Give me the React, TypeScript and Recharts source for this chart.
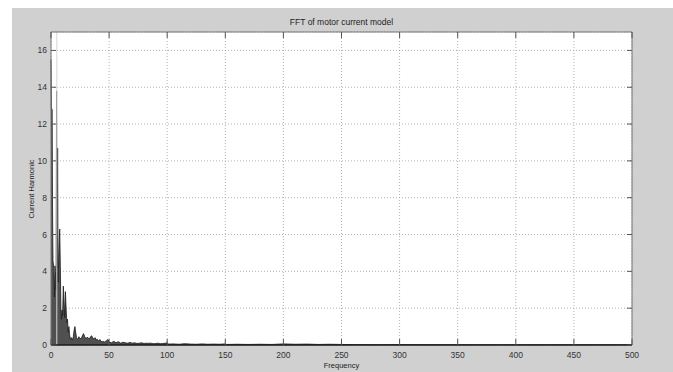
import React from 'react';
import { ComposedChart, Area, XAxis, YAxis, CartesianGrid, ReferenceLine } from 'recharts';

const titleText = 'FFT of motor current model';
const xLabel = 'Frequency';
const yLabel = 'Current Harmonic';

const xTicks = [0, 50, 100, 150, 200, 250, 300, 350, 400, 450, 500];
const yTicks = [0, 2, 4, 6, 8, 10, 12, 14, 16];

const frequency = [
  0, 0.3, 1.0, 1.3, 1.7, 2.2, 2.6, 3.0, 3.4, 3.9, 4.4, 4.8, 5.2, 5.7, 6.1, 6.6, 7.1, 7.5, 8.0, 8.5,
  9.0, 9.5, 10.0, 10.6, 11.2, 11.8, 12.4, 13.0, 13.6, 14.2, 14.8, 15.4, 16.0, 16.8, 17.6, 18.4, 19.2,
  20.0, 20.6, 21.2, 22, 23, 24, 25, 26, 27, 28, 29, 30, 31, 32, 33, 34, 35, 36, 37, 38, 39, 40, 41,
  42, 43, 44, 45, 46, 47, 48, 49, 50, 52, 54, 56, 58, 60, 62, 64, 66, 68, 70, 72, 74, 76, 78, 80,
  82, 84, 86, 88, 90, 92, 94, 96, 98, 100, 101, 105, 110, 115, 120, 125, 130, 135, 140, 145, 150,
  151, 160, 170, 180, 190, 200, 210, 220, 230, 240, 250, 260, 280, 300, 350, 400, 450, 500,
];

const harmonic = [
  15.5, 12.8, 12.8, 7.6, 4.6, 4.3, 3.8, 2.6, 4.3, 3.9, 3.0, 13.8, 4.2, 10.7, 3.4, 4.7, 5.7, 6.3, 4.4, 2.0,
  1.4, 1.9, 1.6, 3.2, 2.4, 1.5, 2.9, 2.0, 1.2, 1.4, 0.7, 1.0, 0.55, 0.3, 0.4, 0.25, 0.45,
  0.85, 1.0, 0.7, 0.4, 0.3, 0.45, 0.35, 0.35, 0.5, 0.62, 0.45, 0.35, 0.42, 0.38, 0.33, 0.45, 0.5, 0.38, 0.32, 0.4, 0.28, 0.3, 0.22,
  0.3, 0.2, 0.17, 0.2, 0.16, 0.2, 0.25, 0.3, 0.16, 0.12, 0.2, 0.12, 0.18, 0.1, 0.15, 0.12, 0.1, 0.14, 0.1, 0.12, 0.08, 0.1, 0.12, 0.08,
  0.1, 0.09, 0.1, 0.07, 0.08, 0.1, 0.07, 0.08, 0.09, 0.12, 0.05, 0.06, 0.04, 0.07, 0.05, 0.04, 0.06, 0.04, 0.05, 0.04, 0.06,
  0.03, 0.04, 0.03, 0.04, 0.03, 0.06, 0.04, 0.05, 0.03, 0.04, 0.03, 0.02, 0.015, 0.02, 0.01, 0.01, 0.01, 0.01,
];

const data = frequency.map((f, i) => ({ f, v: harmonic[i] }));

const W = 673;
const H = 372;
const PLOT_LEFT = 51;
const PLOT_TOP = 32;
const PLOT_RIGHT = 632;
const PLOT_BOTTOM = 345;
const FONT = '"Liberation Sans", Arial, sans-serif';

const XTick = (props: any) => {
  const { x, y, payload } = props;
  return (
    <g>
      <line x1={x} y1={PLOT_BOTTOM} x2={x} y2={PLOT_BOTTOM - 6} stroke="#555" strokeWidth={1} />
      <line x1={x} y1={PLOT_TOP} x2={x} y2={PLOT_TOP + 6} stroke="#555" strokeWidth={1} />
      <text x={x} y={y} dy="0.35em" textAnchor="middle" fontSize={8.5} fill="#333" fontFamily={FONT}>
        {payload.value}
      </text>
    </g>
  );
};

const YTick = (props: any) => {
  const { x, y, payload } = props;
  return (
    <g>
      <line x1={PLOT_LEFT} y1={y} x2={PLOT_LEFT + 5} y2={y} stroke="#555" strokeWidth={1} />
      <line x1={PLOT_RIGHT} y1={y} x2={PLOT_RIGHT - 5} y2={y} stroke="#555" strokeWidth={1} />
      <text x={x} y={y} dy="0.35em" textAnchor="end" fontSize={8.5} fill="#333" fontFamily={FONT}>
        {payload.value}
      </text>
    </g>
  );
};

export default function App() {
  return (
    <div style={{ position: 'absolute', left: 0, top: 0, width: W, height: H, background: '#ffffff', overflow: 'hidden' }}>
      <div style={{ position: 'absolute', left: 12, top: 8, width: W - 12, height: H - 8, background: '#d0d0d0' }} />
      <div
        style={{
          position: 'absolute',
          left: PLOT_LEFT,
          top: PLOT_TOP,
          width: PLOT_RIGHT - PLOT_LEFT,
          height: PLOT_BOTTOM - PLOT_TOP,
          background: '#ffffff',
        }}
      />
      <div style={{ position: 'absolute', left: 0, top: 0 }}>
        <ComposedChart width={W} height={H} data={data} margin={{ top: PLOT_TOP, right: W - PLOT_RIGHT, bottom: 0, left: 0 }}>
          <CartesianGrid stroke="#a0a0a0" strokeDasharray="1 2" strokeWidth={0.8} />
          <XAxis
            dataKey="f"
            type="number"
            domain={[0, 500]}
            ticks={xTicks}
            height={H - PLOT_BOTTOM}
            tickSize={0}
            tickMargin={10}
            tickLine={false}
            tick={<XTick />}
            axisLine={{ stroke: '#1a1a1a', strokeWidth: 1.5 }}
            interval={0}
          />
          <YAxis
            type="number"
            domain={[0, 17]}
            ticks={yTicks}
            width={PLOT_LEFT}
            tickSize={0}
            tickMargin={4}
            tickLine={false}
            tick={<YTick />}
            axisLine={{ stroke: '#777', strokeWidth: 1 }}
            allowDataOverflow
            interval={0}
          />
          <ReferenceLine x={5.0} stroke="#d8d8d8" strokeWidth={1} />
          <ReferenceLine y={17} stroke="#777" strokeWidth={1} />
          <ReferenceLine x={500} stroke="#777" strokeWidth={1} />
          <Area
            dataKey="v"
            type="linear"
            fill="#505050"
            fillOpacity={1}
            stroke="#1c1c1c"
            strokeWidth={0.8}
            dot={false}
            activeDot={false}
            isAnimationActive={false}
          />
        </ComposedChart>
      </div>
      <div
        style={{
          position: 'absolute',
          left: PLOT_LEFT,
          width: PLOT_RIGHT - PLOT_LEFT,
          top: 16,
          textAlign: 'center',
          fontFamily: FONT,
          fontSize: 8.5,
          color: '#222',
          lineHeight: '12px',
        }}
      >
        {titleText}
      </div>
      <div
        style={{
          position: 'absolute',
          left: PLOT_LEFT,
          width: PLOT_RIGHT - PLOT_LEFT,
          top: 360,
          textAlign: 'center',
          fontFamily: FONT,
          fontSize: 7.5,
          color: '#222',
          lineHeight: '11px',
        }}
      >
        {xLabel}
      </div>
      <div
        style={{
          position: 'absolute',
          left: 31,
          top: (PLOT_TOP + PLOT_BOTTOM) / 2,
          transform: 'translate(-50%, -50%) rotate(-90deg)',
          fontFamily: FONT,
          fontSize: 7.5,
          color: '#222',
          whiteSpace: 'nowrap',
          lineHeight: '11px',
        }}
      >
        {yLabel}
      </div>
    </div>
  );
}
